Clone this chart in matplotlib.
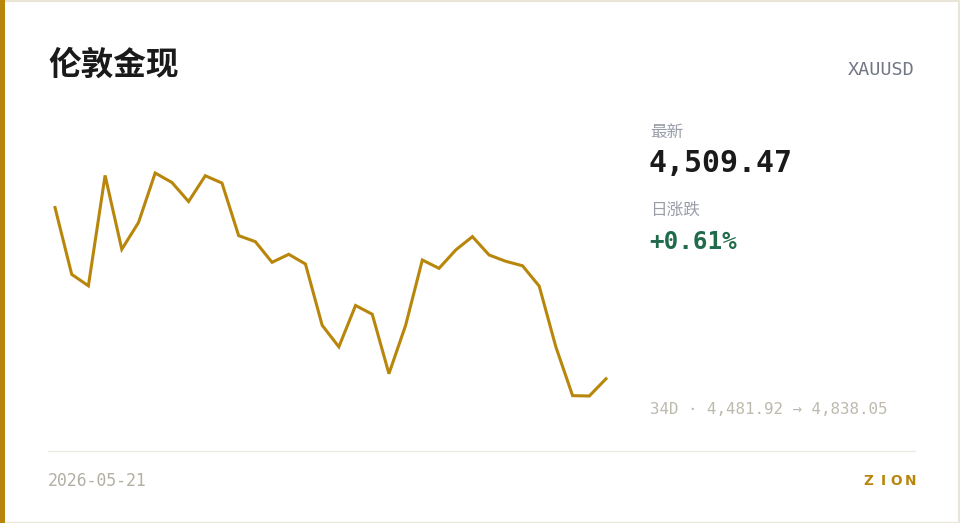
import matplotlib
matplotlib.use('Agg')
import matplotlib.pyplot as plt
from matplotlib.patches import Rectangle
from matplotlib.lines import Line2D

plt.rcParams['font.family'] = ['Noto Sans CJK SC', 'DejaVu Sans']

# datos (34 dias)
precios = [4782.9, 4676.2, 4657.9, 4834.2, 4716.2, 4758.9, 4838.05, 4823.0, 4792.5,
           4833.7, 4822.0, 4738.0, 4728.4, 4695.4, 4708.2, 4692.7, 4594.9, 4560.4,
           4626.5, 4612.5, 4517.5, 4594.9, 4699.1, 4685.8, 4715.1, 4736.4, 4707.1,
           4697.0, 4689.9, 4657.4, 4560.1, 4482.5, 4481.92, 4509.47]
titulo = '伦敦金现'
simbolo = 'XAUUSD'
etiqueta_ultimo = '最新'
ultimo = '4,509.47'
etiqueta_cambio = '日涨跌'
cambio = '+0.61%'
rango = '34D · 4,481.92 → 4,838.05'
fecha = '2026-05-21'
marca = 'ZION'

ORO = '#b8860b'
W, H = 960, 523

fig = plt.figure(figsize=(W / 100, H / 100), dpi=100)
fig.patch.set_facecolor('white')

def fx(px):
    return px / W

def fy(py):
    return 1 - py / H

# borde de la tarjeta y barra lateral
fig.add_artist(Rectangle((0.5 / W, 0.5 / H), 1 - 1.5 / W, 1 - 1.5 / H, transform=fig.transFigure,
                         facecolor='none', edgecolor='#e9e5d7', linewidth=1.5))
fig.add_artist(Rectangle((0, 0), fx(5), 1, transform=fig.transFigure,
                         facecolor=ORO, edgecolor='none'))

# grafico de linea
ax = fig.add_axes([fx(55), fy(396), fx(606 - 55), (396 - 173) / H])
ax.plot(range(len(precios)), precios, color=ORO, linewidth=2.2, clip_on=False,
        solid_joinstyle='miter')
ax.set_xlim(0, len(precios) - 1)
ax.set_ylim(min(precios), max(precios))
ax.axis('off')

# textos
fig.text(fx(48), fy(65), titulo, fontsize=23.5, fontweight='bold', color='#1a1a1a',
         va='center', ha='left')
fig.text(fx(915), fy(70), simbolo, fontsize=13.3, family='DejaVu Sans Mono', color='#737785',
         va='center', ha='right')

fig.text(fx(650), fy(133), etiqueta_ultimo, fontsize=12, color='#9a9ea8', va='center')
fig.text(fx(649), fy(163), ultimo, fontsize=21.5, fontweight='bold', family='DejaVu Sans Mono',
         color='#1a1a1a', va='center')
fig.text(fx(650), fy(210), etiqueta_cambio, fontsize=12, color='#9a9ea8', va='center')
fig.text(fx(649), fy(242), cambio, fontsize=17.5, fontweight='bold', family='DejaVu Sans Mono',
         color='#1f6b4a', va='center')
fig.text(fx(650), fy(410), rango, fontsize=11.4, family='DejaVu Sans Mono', color='#bdb9ad',
         va='center')

# separador
fig.add_artist(Line2D([fx(48), fx(915)], [fy(451), fy(451)], transform=fig.transFigure,
                      color='#eeebe3', linewidth=1))

fig.text(fx(48), fy(481), fecha, fontsize=11.9, family='DejaVu Sans Mono', color='#b3afa4',
         va='center')

# marca con espaciado entre letras (centros de cada letra)
xs = [868, 883, 896, 910.5]
for letra, x in zip(marca, xs):
    fig.text(fx(x), fy(481), letra, fontsize=9.8, fontweight='bold', family='DejaVu Sans',
             color=ORO, va='center', ha='center')

fig.savefig('out.png', dpi=100, facecolor='white')
